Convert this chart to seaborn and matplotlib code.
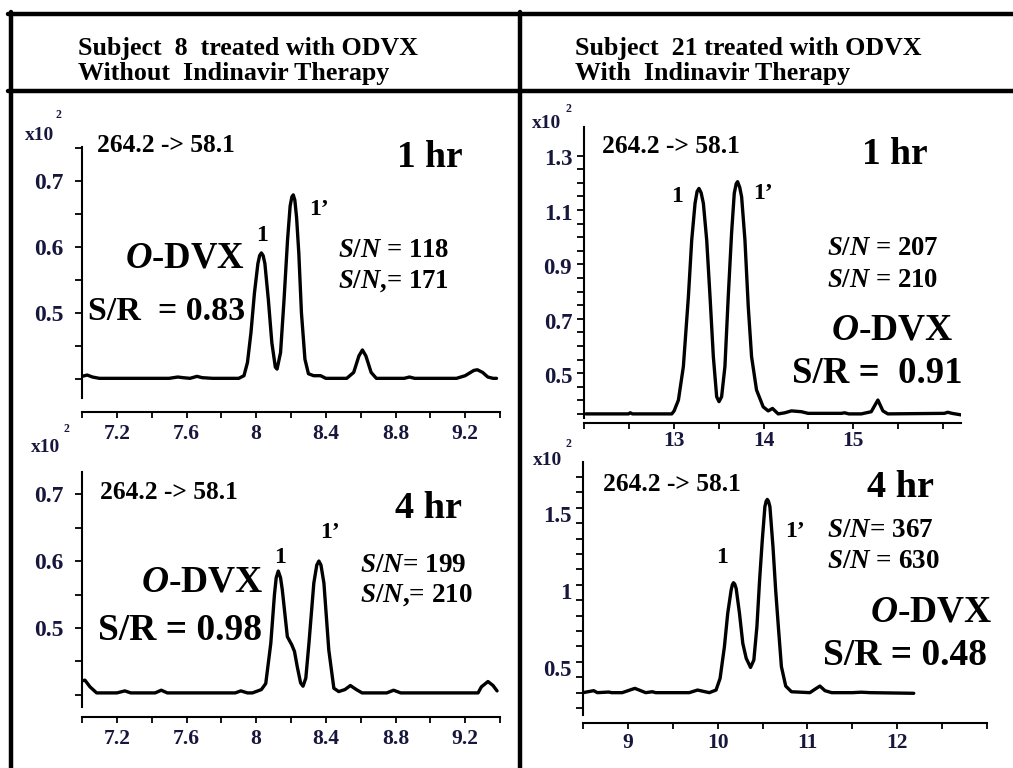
import matplotlib
matplotlib.use("Agg")
import matplotlib.pyplot as plt
import pandas as pd
import seaborn as sns
from matplotlib.lines import Line2D

# ---------------- DATA ----------------
# Panel A : Subject 8, 1 hr (retention time, abundance x10^2)
a_time = [7.00, 7.03, 7.06, 7.10, 7.30, 7.50, 7.55, 7.58, 7.62, 7.66, 7.69, 7.75, 7.90,
          7.93, 7.95, 7.97, 7.99, 8.01, 8.02, 8.03, 8.04, 8.05, 8.07, 8.09, 8.11, 8.12,
          8.14, 8.16, 8.18, 8.195, 8.205, 8.213, 8.222, 8.232, 8.245, 8.26, 8.28, 8.30,
          8.33, 8.37, 8.40, 8.52, 8.56, 8.59, 8.61, 8.63, 8.66, 8.69, 8.85, 8.88, 8.91,
          9.15, 9.20, 9.25, 9.27, 9.30, 9.33, 9.36, 9.38]
a_abund = [0.404, 0.406, 0.403, 0.401, 0.401, 0.401, 0.403, 0.402, 0.401, 0.404, 0.402,
           0.401, 0.401, 0.405, 0.425, 0.470, 0.530, 0.575, 0.587, 0.591, 0.587, 0.575,
           0.520, 0.455, 0.418, 0.415, 0.440, 0.520, 0.610, 0.662, 0.676, 0.679, 0.671,
           0.645, 0.590, 0.500, 0.430, 0.408, 0.405, 0.405, 0.401, 0.401, 0.410, 0.435,
           0.444, 0.435, 0.410, 0.401, 0.401, 0.403, 0.401, 0.401, 0.405, 0.413, 0.414,
           0.410, 0.403, 0.401, 0.401]

# Panel B : Subject 8, 4 hr
b_time = [7.000, 7.017, 7.046, 7.084, 7.20, 7.246, 7.28, 7.42, 7.455, 7.49, 7.88, 7.912,
          7.95, 7.979, 8.030, 8.055, 8.084, 8.105, 8.115, 8.127, 8.140, 8.150, 8.179,
          8.204, 8.220, 8.236, 8.255, 8.269, 8.285, 8.303, 8.331, 8.348, 8.360, 8.372,
          8.389, 8.417, 8.446, 8.474, 8.510, 8.541, 8.575, 8.608, 8.75, 8.789, 8.83,
          9.274, 9.293, 9.331, 9.36, 9.383]
b_abund = [0.421, 0.422, 0.412, 0.403, 0.403, 0.406, 0.403, 0.403, 0.407, 0.403, 0.403,
           0.406, 0.403, 0.403, 0.408, 0.417, 0.477, 0.550, 0.575, 0.585, 0.575, 0.557,
           0.487, 0.475, 0.465, 0.442, 0.418, 0.413, 0.425, 0.477, 0.567, 0.594, 0.600,
           0.594, 0.567, 0.467, 0.410, 0.405, 0.408, 0.414, 0.408, 0.403, 0.403, 0.407,
           0.403, 0.403, 0.412, 0.420, 0.414, 0.406]

# Panel C : Subject 21, 1 hr
c_time = [12.022, 12.496, 12.515, 12.54, 12.978, 13.004, 13.052, 13.107, 13.163, 13.200,
          13.237, 13.260, 13.281, 13.305, 13.330, 13.367, 13.404, 13.441, 13.478, 13.504,
          13.533, 13.570, 13.607, 13.644, 13.674, 13.695, 13.711, 13.735, 13.756, 13.793,
          13.830, 13.867, 13.922, 13.996, 14.052, 14.100, 14.163, 14.237, 14.311, 14.422,
          14.496, 14.867, 14.904, 14.95, 15.089, 15.200, 15.274, 15.330, 15.385, 16.015,
          16.052, 16.10, 16.207]
c_abund = [0.357, 0.357, 0.361, 0.357, 0.357, 0.368, 0.408, 0.531, 0.788, 0.996, 1.131,
           1.175, 1.186, 1.170, 1.131, 0.996, 0.788, 0.567, 0.420, 0.402, 0.420, 0.531,
           0.788, 1.021, 1.168, 1.203, 1.211, 1.190, 1.155, 0.996, 0.751, 0.567, 0.445,
           0.383, 0.368, 0.377, 0.357, 0.361, 0.368, 0.365, 0.359, 0.359, 0.361, 0.357,
           0.357, 0.365, 0.408, 0.368, 0.357, 0.359, 0.363, 0.359, 0.353]

# Panel D : Subject 21, 4 hr
d_time = [8.50, 8.619, 8.66, 8.787, 8.82, 8.936, 9.078, 9.198, 9.272, 9.31, 9.683, 9.776,
          9.907, 9.982, 10.027, 10.075, 10.112, 10.150, 10.163, 10.176, 10.190, 10.206,
          10.243, 10.280, 10.318, 10.366, 10.403, 10.437, 10.467, 10.497, 10.526, 10.540,
          10.553, 10.566, 10.582, 10.616, 10.646, 10.676, 10.710, 10.758, 10.822, 11.027,
          11.083, 11.139, 11.195, 11.270, 11.50, 11.60, 11.70, 12.184]
d_abund = [0.340, 0.353, 0.340, 0.344, 0.340, 0.340, 0.368, 0.340, 0.346, 0.340, 0.340,
           0.357, 0.340, 0.357, 0.433, 0.638, 0.855, 1.006, 1.040, 1.054, 1.045, 1.017,
           0.855, 0.660, 0.563, 0.504, 0.552, 0.768, 1.071, 1.331, 1.548, 1.583, 1.595,
           1.583, 1.548, 1.288, 1.006, 0.768, 0.509, 0.383, 0.346, 0.340, 0.362, 0.383,
           0.353, 0.340, 0.340, 0.343, 0.340, 0.336]

# Tick values / labels
ab_xticks = [7.0, 7.2, 7.4, 7.6, 7.8, 8.0, 8.2, 8.4, 8.6, 8.8, 9.0, 9.2, 9.4]
ab_xlabels = ["", "7.2", "", "7.6", "", "8", "", "8.4", "", "8.8", "", "9.2", ""]
a_yticks = [0.40, 0.45, 0.50, 0.55, 0.60, 0.65, 0.70, 0.75]
a_ylabels = ["", "", "0.5", "", "0.6", "", "0.7", ""]
b_yticks = [0.40, 0.45, 0.50, 0.55, 0.60, 0.65, 0.70]
b_ylabels = ["", "", "0.5", "", "0.6", "", "0.7"]
c_xticks = [12.0, 12.5, 13.0, 13.5, 14.0, 14.5, 15.0, 15.5, 16.0]
c_xlabels = ["", "", "13", "", "14", "", "15", "", ""]
c_ylabel_vals = [0.5, 0.7, 0.9, 1.1, 1.3]
c_ylabels = ["0.5", "0.7", "0.9", "1.1", "1.3"]
c_ymarks = [0.357 + 0.05 * k for k in range(20)]
d_xticks = [8.5, 9.0, 9.5, 10.0, 10.5, 11.0, 11.5, 12.0, 12.5, 13.0]
d_xlabels = ["", "9", "", "10", "", "11", "", "12", "", ""]
d_ylabel_vals = [0.5, 1.0, 1.5]
d_ylabels = ["0.5", "1", "1.5"]
d_ymarks = [0.24 + 0.1 * k for k in range(16)]

# ---------------- STYLE ----------------
sns.set_theme(style="white")
FAM = ["Liberation Serif", "DejaVu Serif"]
plt.rcParams["font.family"] = FAM
plt.rcParams["font.weight"] = "bold"
plt.rcParams["mathtext.fontset"] = "custom"
plt.rcParams["mathtext.rm"] = "Liberation Serif:bold"
plt.rcParams["mathtext.bf"] = "Liberation Serif:bold"
plt.rcParams["mathtext.it"] = "Liberation Serif:italic:bold"

W, H = 1013, 768
fig = plt.figure(figsize=(W / 100, H / 100), dpi=100)
fig.patch.set_facecolor("white")
TICKCOL = "#17173d"


def add_ax(x0, x1, y0, y1):
    return fig.add_axes([x0 / W, 1 - y1 / H, (x1 - x0) / W, (y1 - y0) / H])


def txt(x, y, s, size, ha="left", va="baseline"):
    fig.text(x / W, 1 - y / H, s, fontsize=size, ha=ha, va=va,
             fontweight="bold", family=FAM, color="black")


def panel(box, t, a, xlim, ylim, ybounds, xt, xl, ylab_vals, ylab, ymarks,
          xpad, ylsize=16):
    ax = add_ax(*box)
    df = pd.DataFrame({"time": t, "abund": a})
    sns.lineplot(data=df, x="time", y="abund", ax=ax, color="black",
                 linewidth=2.4, estimator=None, sort=False)
    ax.set_xlim(*xlim)
    ax.set_ylim(*ylim)
    ax.set_xlabel("")
    ax.set_ylabel("")
    ax.patch.set_alpha(0)
    for s in ("top", "right"):
        ax.spines[s].set_visible(False)
    ax.spines["left"].set_bounds(*ybounds)
    ax.spines["left"].set_linewidth(1.5)
    ax.spines["bottom"].set_linewidth(1.5)
    ax.spines["left"].set_color("black")
    ax.spines["bottom"].set_color("black")
    ax.set_xticks(xt)
    ax.set_xticklabels(xl)
    ax.set_yticks(ylab_vals)
    ax.set_yticklabels(ylab)
    if ymarks is None:
        ax.tick_params(axis="y", which="major", length=5, width=1.3)
    else:
        ax.set_yticks(ymarks, minor=True)
        ax.tick_params(axis="y", which="major", length=0, pad=12)
        ax.tick_params(axis="y", which="minor", length=5, width=1.3,
                       left=True, color="black")
    ax.tick_params(axis="both", direction="out", color="black",
                   labelcolor=TICKCOL, left=True, bottom=True)
    ax.tick_params(axis="y", pad=8.5, labelsize=ylsize)
    ax.tick_params(axis="x", length=4, width=1.3, pad=xpad, labelsize=15.5)
    for lbl in ax.get_xticklabels() + ax.get_yticklabels():
        lbl.set_fontweight("bold")
        lbl.set_family(FAM)
    ax.grid(False)
    return ax


# Panel A
panel((82, 500, 147, 412), a_time, a_abund, (7.0, 9.4), (0.35, 0.7515),
      (0.371, 0.7515), ab_xticks, ab_xlabels, a_yticks, a_ylabels, None,
      xpad=4.5, ylsize=17)
# Panel B
panel((82, 500, 472, 717), b_time, b_abund, (7.0, 9.4), (0.367, 0.733),
      (0.382, 0.733), ab_xticks, ab_xlabels, b_yticks, b_ylabels, None,
      xpad=4.5, ylsize=17)
# Panel C
panel((584, 961, 127, 423), c_time, c_abund, (12.0, 16.2), (0.3235, 1.412),
      (0.342, 1.412), c_xticks, c_xlabels, c_ylabel_vals, c_ylabels, c_ymarks,
      xpad=2.0, ylsize=16.5)
# Panel D
panel((583, 987, 462, 723), d_time, d_abund, (8.5, 13.0), (0.143, 1.838),
      (0.195, 1.838), d_xticks, d_xlabels, d_ylabel_vals, d_ylabels, d_ymarks,
      xpad=3.0, ylsize=16.5)

# ---------------- FRAME ----------------
LW = 3.2
for (x0, y0, x1, y1) in [(8, 13.5, 1013, 13.5), (8, 90.5, 1013, 90.5),
                         (10.5, 12, 10.5, 768), (519.5, 12, 519.5, 768)]:
    fig.add_artist(Line2D([x0 / W, x1 / W], [1 - y0 / H, 1 - y1 / H],
                          transform=fig.transFigure, color="black", linewidth=LW))

# ---------------- TEXT ----------------
txt(78, 55, "Subject  8  treated with ODVX", 18.7)
txt(78, 80, "Without  Indinavir Therapy", 18.7)
txt(575, 55, "Subject  21 treated with ODVX", 18.7)
txt(575, 80, "With  Indinavir Therapy", 18.7)

S_N = r"$\mathit{S/N}$"
S_N1 = r"$\mathit{S/N}$,"

# multiplier labels
for (x, yb, x2, y2) in [(25, 140, 55, 118), (31, 452, 63, 432),
                        (532, 128, 565, 112), (533, 465, 566, 447)]:
    fig.text(x / W, 1 - yb / H, "x10", fontsize=14, fontweight="bold",
             family=FAM, color=TICKCOL, va="baseline")
    fig.text(x2 / W, 1 - y2 / H, "2", fontsize=8.5, fontweight="bold",
             family=FAM, color=TICKCOL, va="baseline")

# Panel A texts
txt(97, 152, "264.2 -> 58.1", 18.4)
txt(397, 167, "1 hr", 27)
txt(262, 241, "1", 17, ha="center")
txt(309, 215, "1\u2019", 17)
txt(245, 267, r"$\mathit{O}$-DVX", 26.5, ha="right")
txt(245, 320, "S/R  = 0.83", 24.5, ha="right")
txt(338, 257, S_N + " = 118", 19.3)
txt(338, 288, S_N1 + "= 171", 19.3)

# Panel B texts
txt(100, 499, "264.2 -> 58.1", 18.4)
txt(395, 518, "4 hr", 27.5)
txt(280, 563, "1", 17, ha="center")
txt(320, 538, "1\u2019", 17)
txt(263, 592, r"$\mathit{O}$-DVX", 27, ha="right")
txt(262, 640, "S/R = 0.98", 27, ha="right")
txt(360, 572, S_N + "= 199", 19.5)
txt(360, 602, S_N1 + "= 210", 19.5)

# Panel C texts
txt(602, 153, "264.2 -> 58.1", 18.4)
txt(862, 164, "1 hr", 27)
txt(677, 202, "1", 17, ha="center")
txt(753, 199, "1\u2019", 17)
txt(827, 255, S_N + " = 207", 19.3)
txt(827, 287, S_N + " = 210", 19.3)
txt(953, 340, r"$\mathit{O}$-DVX", 27, ha="right")
txt(962, 383, "S/R =  0.91", 26.5, ha="right")

# Panel D texts
txt(603, 491, "264.2 -> 58.1", 18.4)
txt(867, 497, "4 hr", 27.5)
txt(722, 563, "1", 17, ha="center")
txt(785, 537, "1\u2019", 17)
txt(827, 537, S_N + "= 367", 19.5)
txt(827, 568, S_N + " = 630", 19.5)
txt(992, 622, r"$\mathit{O}$-DVX", 27, ha="right")
txt(987, 665, "S/R = 0.48", 27, ha="right")

fig.savefig("out.png", dpi=100, facecolor="white")
